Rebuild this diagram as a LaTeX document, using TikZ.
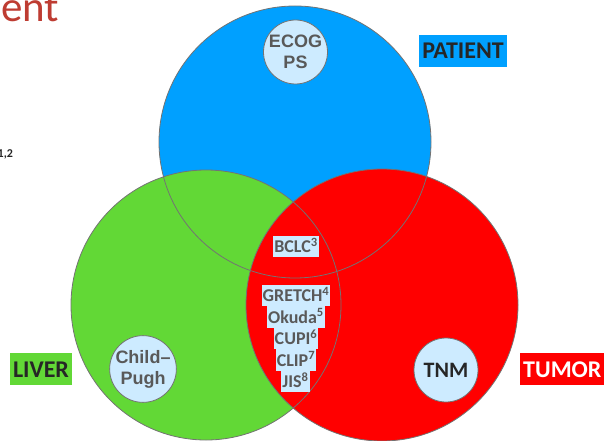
\documentclass[tikz,border=0pt]{standalone}
\usepackage{fontspec}
\setmainfont{Carlito}
\newfontfamily\arialfont{Liberation Sans}
\definecolor{pblue}{RGB}{0,160,255}
\definecolor{lgreen}{RGB}{98,216,54}
\definecolor{tred}{RGB}{255,0,0}
\definecolor{pale}{RGB}{205,235,255}
\definecolor{ink}{RGB}{89,89,89}
\definecolor{darkink}{RGB}{38,38,38}
\definecolor{edge}{RGB}{115,115,115}
\definecolor{titlered}{RGB}{190,60,50}
\begin{document}
\begin{tikzpicture}[x=1pt,y=-1pt,
  ring/.style={draw=edge, line width=0.8pt},
  score/.style={circle, draw=edge, line width=0.8pt, fill=pale, minimum size=64pt,
    inner sep=0pt, align=center, text=ink,
    font=\arialfont\bfseries\fontsize{18}{21}\selectfont},
  tag/.style={fill=pale, inner xsep=1pt, inner ysep=0pt, text height=17pt,
    text depth=4.5pt, text=ink, font=\bfseries\fontsize{18}{21}\selectfont},
  arealabel/.style={inner xsep=3pt, inner ysep=0pt, text height=24pt, text depth=8pt,
    font=\bfseries\fontsize{24}{28}\selectfont}
]
\useasboundingbox (0,0) rectangle (605,441);

% the three overlapping domains: fills first, outlines on top
\fill[pblue]  (295,142) circle (136);
\fill[lgreen] (206,305) circle (135);
\fill[tred]   (382,305) circle (136);
\draw[ring] (295,142) circle (136);
\draw[ring] (206,305) circle (135);
\draw[ring] (382,305) circle (136);

% domain labels
\node[arealabel, fill=pblue, text=darkink] (patient) at (463,51) {PATIENT};
\node[arealabel, fill=lgreen, text=darkink] (liver) at (41,369) {LIVER};
\node[arealabel, fill=tred, text=white, anchor=west] (tumor) at (520,369) {TUMOR};

% single-domain scores
\node[score] (ecog) at (295.5,52) {ECOG\\PS};
\node[score] (child) at (143,369) {Child–\\Pugh};
\node[score, text=darkink, font=\bfseries\fontsize{22}{26}\selectfont] (tnm) at (446,370) {TNM};

% multi-domain staging systems
\node[tag] (bclc) at (296,246.5) {BCLC\textsuperscript{3}};
\node[tag] (gretch) at (296,295.5) {GRETCH\textsuperscript{4}};
\node[tag] (okuda)  at (296,317) {Okuda\textsuperscript{5}};
\node[tag] (cupi)   at (296,338.5) {CUPI\textsuperscript{6}};
\node[tag] (clip)   at (296,360) {CLIP\textsuperscript{7}};
\node[tag] (jis)    at (295.5,381.5) {JIS\textsuperscript{8}};

% fragments at the page edge
\node[anchor=base west, inner sep=0pt, text=titlered,
  font=\fontsize{43}{50}\selectfont] (heading) at (1,22) {ent};
\node[anchor=base west, inner sep=0pt, text=darkink,
  font=\bfseries\fontsize{12}{14}\selectfont] (refs) at (-2.5,157.5) {1,2};
\end{tikzpicture}
\end{document}
